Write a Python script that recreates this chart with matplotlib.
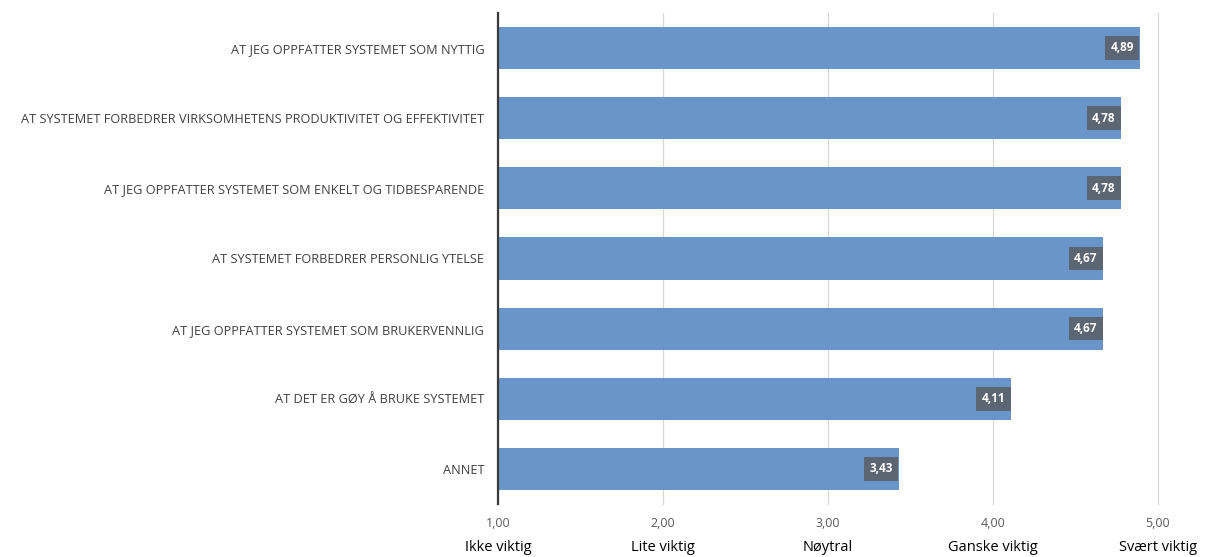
import matplotlib.pyplot as plt
from matplotlib.ticker import FixedLocator

categories = [
    "AT JEG OPPFATTER SYSTEMET SOM NYTTIG",
    "AT SYSTEMET FORBEDRER VIRKSOMHETENS PRODUKTIVITET OG EFFEKTIVITET",
    "AT JEG OPPFATTER SYSTEMET SOM ENKELT OG TIDBESPARENDE",
    "AT SYSTEMET FORBEDRER PERSONLIG YTELSE",
    "AT JEG OPPFATTER SYSTEMET SOM BRUKERVENNLIG",
    "AT DET ER GØY Å BRUKE SYSTEMET",
    "ANNET",
]
scores = [4.89, 4.78, 4.78, 4.67, 4.67, 4.11, 3.43]
tick_values = [1, 2, 3, 4, 5]
scale_labels = ["Ikke viktig", "Lite viktig", "Nøytral", "Ganske viktig", "Svært viktig"]

plt.rcParams['font.family'] = ['Open Sans', 'DejaVu Sans']

fig = plt.figure(figsize=(12.06, 5.57), dpi=100)
ax = fig.add_axes([0.413, 0.095, 0.547, 0.882])

y = list(range(len(categories)))
ax.barh(y, [s - 1 for s in scores], left=1, height=0.6, color="#6A95C9", zorder=2)

for yi, s in zip(y, scores):
    ax.text(s - 0.035, yi, f"{s:.2f}".replace(".", ","), ha="right", va="center",
            color="white", fontsize=8.5, fontweight="bold", zorder=3,
            bbox=dict(boxstyle="square,pad=0.45", fc="#5B6672", ec="none"))

ax.set_xlim(1, 5)
ax.set_ylim(len(categories) - 0.5, -0.5)
ax.set_yticks(y)
ax.set_yticklabels(categories, fontsize=9.2, color="#404040")
ax.tick_params(axis="y", length=0, pad=10)

ax.xaxis.set_major_locator(FixedLocator(tick_values))
ax.set_xticklabels([f"{v:.2f}".replace(".", ",") for v in tick_values],
                   fontsize=9, color="#595959")
ax.tick_params(axis="x", length=0, pad=9)
ax.grid(axis="x", color="#D9D9D9", linewidth=0.9, zorder=0)
for gl in ax.get_xgridlines():
    gl.set_clip_on(False)

for side in ["top", "right", "bottom"]:
    ax.spines[side].set_visible(False)
ax.spines["left"].set_color("#3A3A3A")
ax.spines["left"].set_linewidth(1.6)

# descriptive scale names under each tick value
for v, lab in zip(tick_values, scale_labels):
    ax.annotate(lab, xy=(v, 0), xycoords=("data", "axes fraction"),
                xytext=(0, -37), textcoords="offset points",
                ha="center", va="bottom", fontsize=10.5, color="black")

fig.savefig("out.png", dpi=100)
